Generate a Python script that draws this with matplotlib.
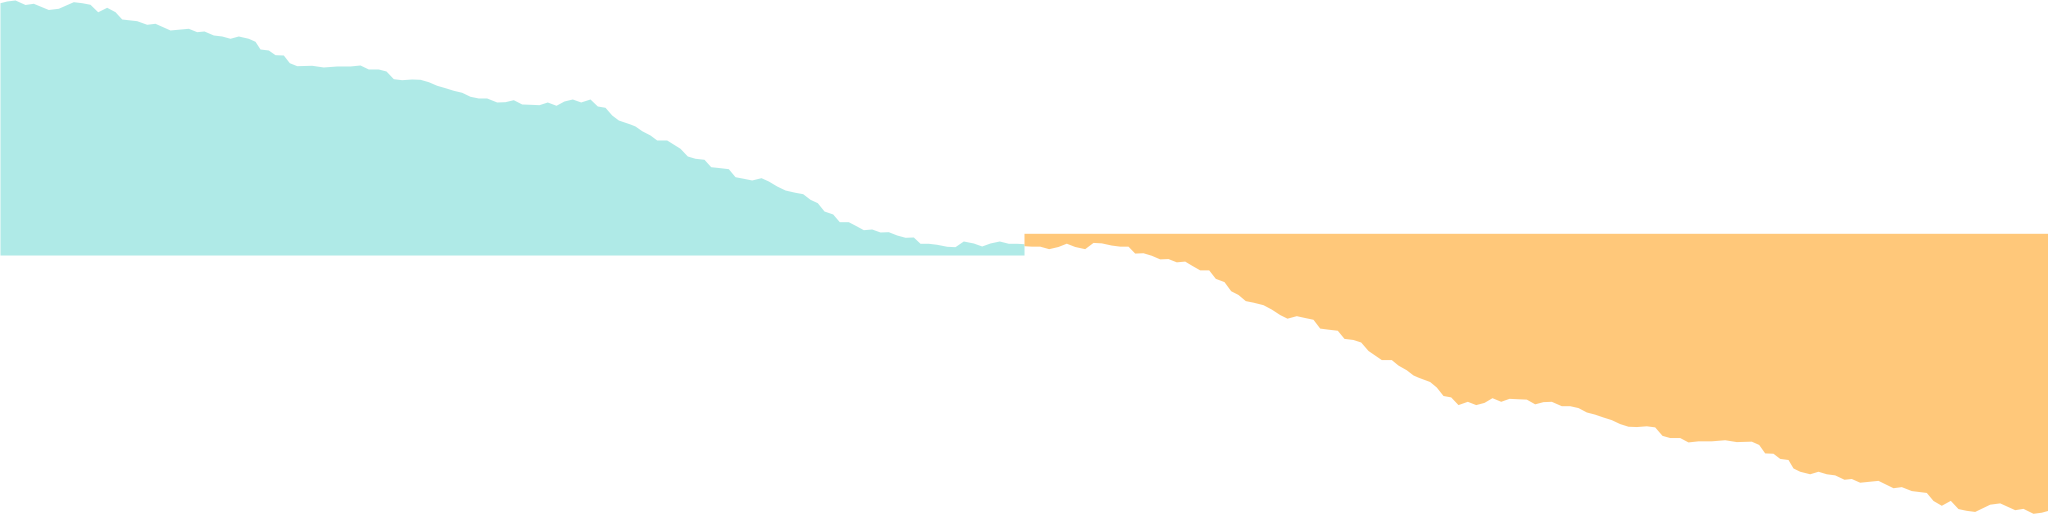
import numpy as np
import matplotlib
matplotlib.use('Agg')
import matplotlib.pyplot as plt

# 采样位置 (横向, 0-1024) 与对应数值
positions = [
    0, 6.7, 15, 25, 33.3, 48.3, 58.3, 73.3, 81.7, 90, 97.7, 106.7, 115, 121.7,
    136.7, 146.7, 155, 170, 188.3, 196.7, 204, 213.3, 221.7, 230, 238.3, 248.3,
    255, 260, 268.3, 275, 283.3, 289.3, 296.7, 311.7, 323.3, 336.7,
    350, 360, 368.3, 378.3, 386, 393.3, 401.7, 411.7, 420, 428.3, 436.7, 445,
    453.3, 461.7, 470, 478.3, 486.7, 496.7, 505, 513.3, 521.7, 530, 539, 547.3,
    556, 564, 572.3, 580.7, 590, 597.3, 605, 611.7, 618.3, 630, 635, 641.7,
    650, 656.7, 666.7, 680, 687.3, 695, 704, 710.7, 720, 728.3, 735, 743.3,
    751.7, 761, 768.3, 776.7, 785, 795, 802.7, 810, 817.3, 824, 832.7, 839.3,
    848.3, 856, 863.3, 871.7, 880, 888.3, 896.7, 905, 913.3, 920, 928.3, 936.7,
    946.7, 955, 963.3, 973.3, 981.7, 990, 999.3, 1008.3, 1016.7, 1024,
]
depths = [
    2.7, 1, 0, 4.5, 3.3, 9.5, 8.3, 1.7, 2.7, 4.3, 11.8, 7.3, 11.7, 19,
    20.7, 24.3, 23.3, 30, 28.3, 31.7, 31, 35, 36, 38.3, 36, 38.3,
    41.3, 49, 50, 54.7, 55, 62.7, 65.7, 65.3, 67, 66,
    66, 65, 69, 69, 71, 78.7, 79.7, 79, 79.3, 81.7, 85.3, 87.7,
    90.3, 92.3, 96.3, 98, 98, 102, 101.7, 99.7, 104, 104.3, 104.7, 102,
    105.3, 101, 99, 102, 99, 106, 107.3, 115, 120, 124, 126, 130.7,
    135, 140, 140, 148.3, 156, 158.3, 159.3, 166.7, 167.7, 168.7, 176.7, 178.3,
    180, 177.7, 181, 186, 190, 192.3, 193.7, 199.3, 202.7, 211, 214, 221.7,
    221.7, 225.7, 229.7, 229, 232, 231.7, 235, 237.3, 237, 243.3, 243.3, 244.3,
    246.3, 246.7, 241, 243, 246, 243, 241, 243.3, 243.3, 243.7,
]
values = 255 - np.array(depths)

TEAL = '#afeae7'
ORANGE = '#ffc87a'

W, H = 2048, 515
fig = plt.figure(figsize=(W / 100, H / 100), dpi=100)

# 左半: 青色面积图
ax1 = fig.add_axes([0, 1 - 255 / H, 0.5, 255 / H])
ax1.fill_between(positions, 0, values, color=TEAL, linewidth=0)
ax1.set_xlim(0, max(positions))
ax1.set_ylim(0, values.max())
ax1.axis('off')

# 右半: 橙色面积图 (翻转)
ax2 = fig.add_axes([0.5, (H - 513.3) / H, 0.5, 280 / H])
ax2.fill_between(positions, 0, values, color=ORANGE, linewidth=0)
ax2.set_xlim(max(positions), 0)
ax2.set_ylim(values.max(), 0)
ax2.axis('off')

fig.savefig('out.png', dpi=100)
plt.close(fig)
